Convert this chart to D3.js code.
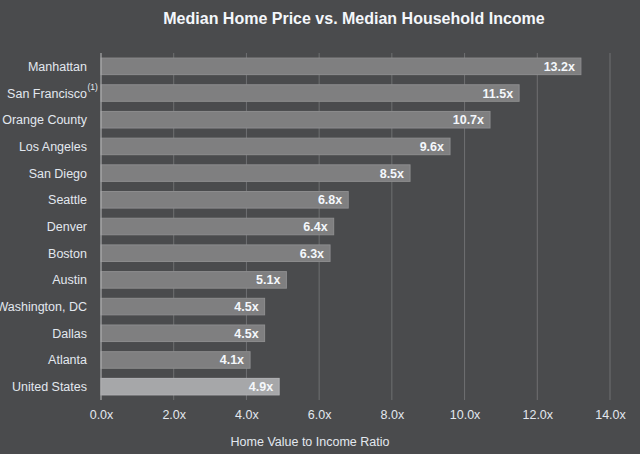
<!DOCTYPE html>
<html>
<head>
<meta charset="utf-8">
<script src="https://cdn.jsdelivr.net/npm/d3@7/dist/d3.min.js"></script>
<style>
  html, body { margin: 0; padding: 0; background: #4a4b4d; }
  svg { display: block; }
  text { font-family: "Liberation Sans", Arial, sans-serif; }
</style>
</head>
<body>
<svg id="chart" width="640" height="454"></svg>
<script>
const cities = ["Manhattan", "San Francisco", "Orange County", "Los Angeles", "San Diego", "Seattle", "Denver", "Boston", "Austin", "Washington, DC", "Dallas", "Atlanta", "United States"];
const ratios = [13.2, 11.5, 10.7, 9.6, 8.5, 6.8, 6.4, 6.3, 5.1, 4.5, 4.5, 4.1, 4.9];
const xTicks = [0, 2, 4, 6, 8, 10, 12, 14];
const titleText = "Median Home Price vs. Median Household Income";
const xAxisTitle = "Home Value to Income Ratio";

const data = cities.map((c, i) => ({ city: c, value: ratios[i] }));

const svg = d3.select("#chart");
svg.append("rect").attr("width", 640).attr("height", 454).attr("fill", "#4a4b4d");

const x = d3.scaleLinear().domain([0, 14]).range([101, 610]);
const y = d3.scaleBand().domain(cities).range([53, 400]).paddingInner(0.38).paddingOuter(0.19);

// grid lines
svg.append("g").selectAll("line").data(xTicks.slice(1)).join("line")
  .attr("x1", d => x(d)).attr("x2", d => x(d))
  .attr("y1", 53).attr("y2", 400)
  .attr("stroke", "#6f7072").attr("stroke-width", 1);

// bars
svg.append("g").selectAll("rect").data(data).join("rect")
  .attr("x", x(0))
  .attr("y", d => y(d.city))
  .attr("width", d => x(d.value) - x(0))
  .attr("height", y.bandwidth())
  .attr("fill", d => d.city === "United States" ? "#a6a7a9" : "#7f7f80")
  .attr("stroke", d => d.city === "United States" ? "#b4b5b7" : "#8d8d8e")
  .attr("stroke-width", 1);

// axis line at 0
svg.append("line")
  .attr("x1", x(0)).attr("x2", x(0)).attr("y1", 53).attr("y2", 400)
  .attr("stroke", "#a9aaac").attr("stroke-width", 1.2);

// value labels
svg.append("g").selectAll("text").data(data).join("text")
  .attr("x", d => x(d.value) - 6)
  .attr("y", d => y(d.city) + y.bandwidth() / 2)
  .attr("dy", "0.36em")
  .attr("text-anchor", "end")
  .attr("font-size", 12.5)
  .attr("font-weight", "bold")
  .attr("fill", "#f4f7fb")
  .text(d => d.value.toFixed(1) + "x");

// category labels
svg.append("g").selectAll("text").data(data).join("text")
  .attr("x", 87)
  .attr("y", d => y(d.city) + y.bandwidth() / 2)
  .attr("dy", "0.36em")
  .attr("text-anchor", "end")
  .attr("font-size", 12.5)
  .attr("fill", "#e3e8ef")
  .text(d => d.city);

// footnote marker for San Francisco
svg.append("text")
  .attr("x", 87.5)
  .attr("y", y("San Francisco") + y.bandwidth() / 2 - 3)
  .attr("font-size", 8.5)
  .attr("fill", "#e3e8ef")
  .text("(1)");

// x axis tick labels
const xAxis = d3.axisBottom(x).tickValues(xTicks).tickSize(0).tickPadding(0)
  .tickFormat(d => d.toFixed(1) + "x");
const gx = svg.append("g").attr("transform", "translate(0,410)").call(xAxis);
gx.select(".domain").remove();
gx.selectAll("text")
  .attr("font-family", "Liberation Sans, Arial, sans-serif")
  .attr("font-size", 12.5)
  .attr("fill", "#e3e8ef");

// title
svg.append("text")
  .attr("x", 354).attr("y", 24)
  .attr("text-anchor", "middle")
  .attr("font-size", 16)
  .attr("font-weight", "bold")
  .attr("fill", "#f4f7fb")
  .text(titleText);

// axis title
svg.append("text")
  .attr("x", 310).attr("y", 446)
  .attr("text-anchor", "middle")
  .attr("font-size", 12.5)
  .attr("fill", "#e3e8ef")
  .text(xAxisTitle);
</script>
</body>
</html>
